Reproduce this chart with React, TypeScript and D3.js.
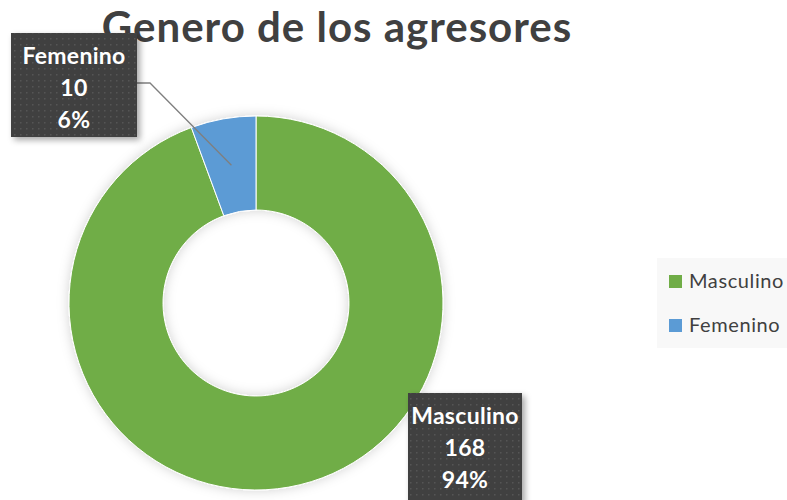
import * as d3 from "d3";
import { useEffect, useRef } from "react";

const categories = ["Masculino", "Femenino"];
const values = [168, 10];
const colors = ["#70AD47", "#5B9BD5"];
const title = "Genero de los agresores";

export default function App() {
  const svgRef = useRef<SVGSVGElement | null>(null);

  useEffect(() => {
    if (!svgRef.current) return;
    const svg = d3.select(svgRef.current);
    svg.selectAll("*").remove();

    const width = 787;
    const height = 500;
    const cx = 256;
    const cy = 303;
    const outerR = 187;
    const innerR = 93;
    const font = "Lato, 'Open Sans', sans-serif";

    svg.attr("width", width).attr("height", height).attr("viewBox", [0, 0, width, height]);

    const defs = svg.append("defs");
    const shadow = defs.append("filter").attr("id", "shadow").attr("x", "-20%").attr("y", "-20%").attr("width", "140%").attr("height", "140%");
    shadow.append("feDropShadow").attr("dx", 0).attr("dy", 0).attr("stdDeviation", 6).attr("flood-color", "#000").attr("flood-opacity", 0.18);
    const boxShadow = defs.append("filter").attr("id", "boxShadow").attr("x", "-20%").attr("y", "-20%").attr("width", "150%").attr("height", "150%");
    boxShadow.append("feDropShadow").attr("dx", 3).attr("dy", 3).attr("stdDeviation", 3).attr("flood-color", "#000").attr("flood-opacity", 0.35);
    const pat = defs.append("pattern").attr("id", "dots").attr("width", 6).attr("height", 6).attr("patternUnits", "userSpaceOnUse");
    pat.append("rect").attr("width", 6).attr("height", 6).attr("fill", "#404040");
    pat.append("rect").attr("x", 2).attr("y", 2).attr("width", 1.5).attr("height", 1.5).attr("fill", "#555555");

    svg.append("rect").attr("width", width).attr("height", height).attr("fill", "#ffffff");

    // title
    svg.append("text")
      .attr("x", 337)
      .attr("y", 42)
      .attr("text-anchor", "middle")
      .attr("font-family", font)
      .attr("font-weight", "bold")
      .attr("font-size", 42)
      .attr("letter-spacing", 1)
      .attr("fill", "#404040")
      .text(title);

    const total = d3.sum(values);
    const data = categories.map((c, i) => ({ name: c, value: values[i], color: colors[i] }));
    const pie = d3.pie<any>().sort(null).value((d: any) => d.value);
    const arcs = pie(data);
    const arc = d3.arc<any>().innerRadius(innerR).outerRadius(outerR);

    const g = svg.append("g").attr("transform", `translate(${cx},${cy})`).attr("filter", "url(#shadow)");
    g.selectAll("path")
      .data(arcs)
      .join("path")
      .attr("d", arc)
      .attr("fill", (d: any) => d.data.color)
      .attr("stroke", "#ffffff")
      .attr("stroke-width", 1);

    // leader line for Femenino
    const fem = arcs[1];
    const mid = (fem.startAngle + fem.endAngle) / 2;
    const lr = 140;
    const ex = cx + Math.sin(mid) * lr;
    const ey = cy - Math.cos(mid) * lr;
    svg.append("path")
      .attr("d", `M137,83 L150,83 L${ex},${ey}`)
      .attr("fill", "none")
      .attr("stroke", "#7f7f7f")
      .attr("stroke-width", 1.3);

    // data label boxes
    const labels = [
      { d: arcs[0], x: 408, y: 393, w: 114, h: 110 },
      { d: arcs[1], x: 11, y: 33, w: 126, h: 104 },
    ];
    labels.forEach((l) => {
      const lg = svg.append("g");
      lg.append("rect")
        .attr("x", l.x).attr("y", l.y).attr("width", l.w).attr("height", l.h)
        .attr("fill", "url(#dots)")
        .attr("filter", "url(#boxShadow)");
      const lines = [
        l.d.data.name,
        String(l.d.data.value),
        `${Math.round((l.d.data.value / total) * 100)}%`,
      ];
      lines.forEach((t, i) => {
        lg.append("text")
          .attr("x", l.x + l.w / 2)
          .attr("y", l.y + 31 + i * 32)
          .attr("text-anchor", "middle")
          .attr("font-family", font)
          .attr("font-weight", "bold")
          .attr("font-size", 23)
          .attr("letter-spacing", 0.3)
          .attr("fill", "#ffffff")
          .text(t);
      });
    });

    // legend
    const leg = svg.append("g");
    leg.append("rect").attr("x", 657).attr("y", 258).attr("width", 135).attr("height", 90).attr("fill", "#f8f8f8");
    data.forEach((d, i) => {
      const y = 275 + i * 44;
      leg.append("rect").attr("x", 669).attr("y", y).attr("width", 13).attr("height", 13).attr("fill", d.color);
      leg.append("text")
        .attr("x", 689)
        .attr("y", y + 13)
        .attr("font-family", font)
        .attr("font-size", 20)
        .attr("letter-spacing", 0.6)
        .attr("fill", "#404040")
        .text(d.name);
    });
  }, []);

  return <svg ref={svgRef} style={{ position: "absolute", left: 0, top: 0 }}></svg>;
}
